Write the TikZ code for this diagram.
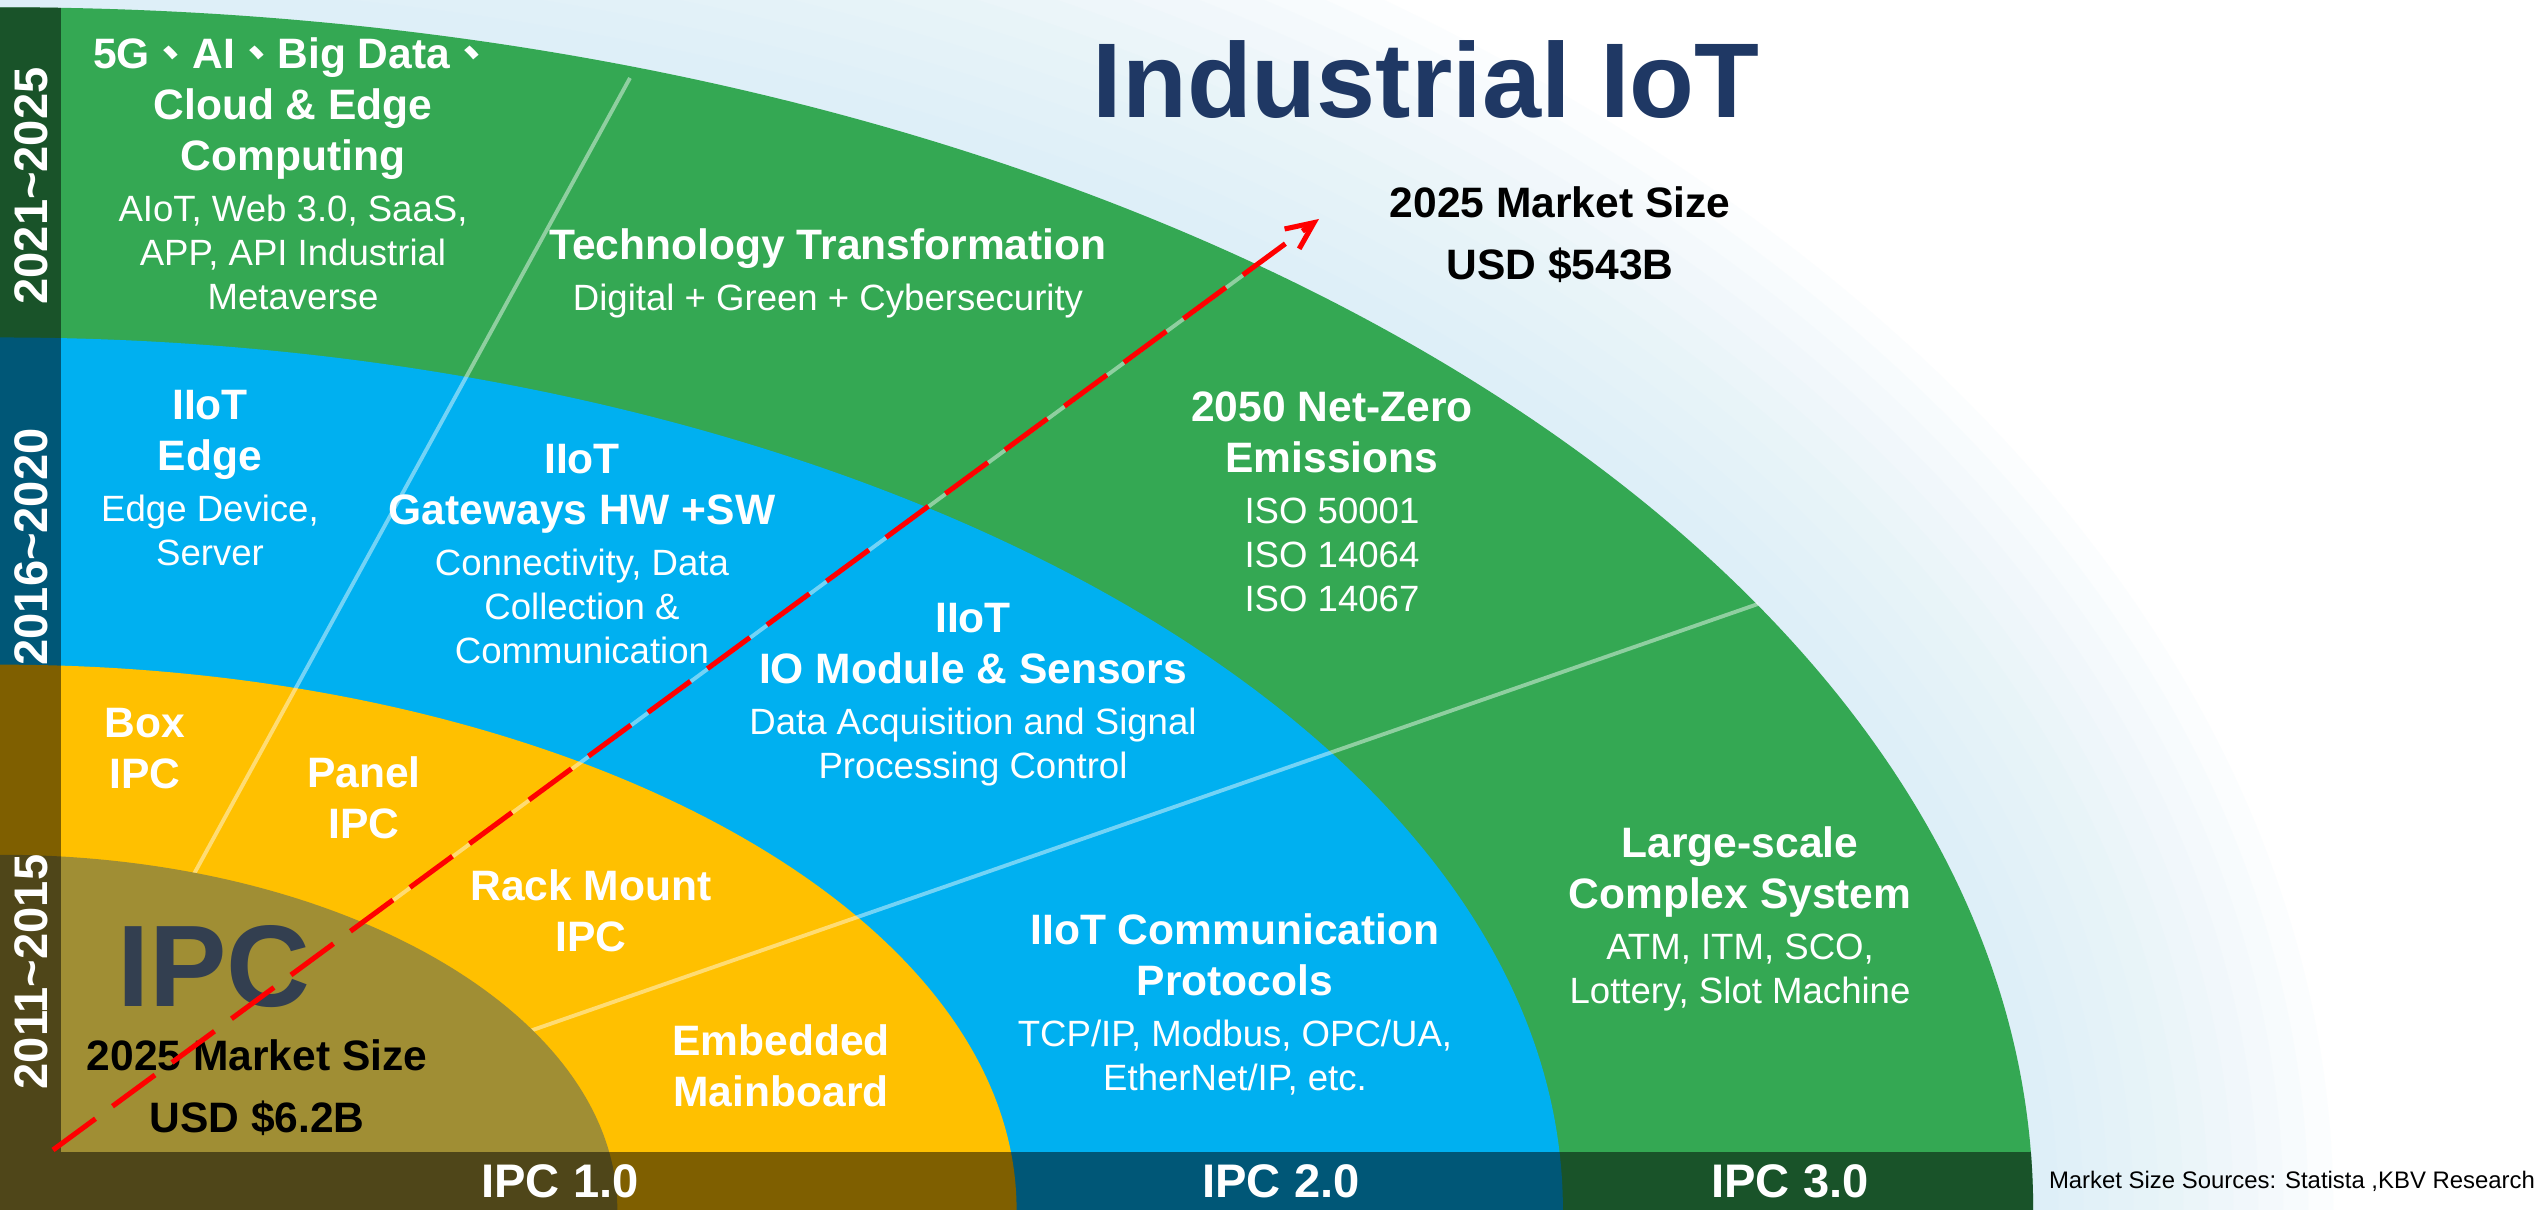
\documentclass[tikz,border=0pt]{standalone}
\usepackage{fontspec}
\setmainfont{Liberation Sans}
\newfontfamily\cjkfont{Noto Sans CJK TC}
\usetikzlibrary{arrows.meta}
\definecolor{ringgreen}{RGB}{52,168,83}
\definecolor{ringblue}{RGB}{0,176,240}
\definecolor{ringyellow}{RGB}{255,192,0}
\definecolor{ringolive}{RGB}{160,142,52}
\definecolor{titlenavy}{RGB}{31,56,100}
\definecolor{ipcslate}{RGB}{51,63,80}
\definecolor{halo}{RGB}{205,234,248}
\newcommand\ringbody{\fontsize{10.4}{12.5}\selectfont}
\newcommand\ringhead{\fontsize{12.1}{14.2}\selectfont\bfseries}
\newcommand\bandfont{\fontsize{13.4}{16}\selectfont\bfseries}
\newcommand\hdline[1]{{\ringhead #1}}
\newcommand\zh{{\cjkfont 、}}

\begin{document}
\begin{tikzpicture}[x=0.01cm, y=0.01cm,
    ring/.style={text=white, align=center, font=\ringbody, inner sep=0pt},
    mkt/.style={text=black, align=center, font=\ringhead, inner sep=0pt},
    band/.style={text=white, font=\bandfont, inner sep=0pt},
    divider/.style={white, opacity=.45, line width=1.1pt},
    growth/.style={red, line width=1.45pt, dash pattern=on 15pt off 6pt,
      -{Straight Barb[length=7.8pt, width=7pt]}}]
  \clip (0,0) rectangle (2547,1210);
  \fill[white] (0,0) rectangle (2547,1210);
  \foreach \k in {12,11,...,1}{
    \fill[halo, opacity=.07] (0,0) ellipse [x radius={20.32cm+\k*0.25cm}, y radius={12.02cm+\k*0.25cm}];
  }
  \fill[ringgreen] (0,0) ellipse [x radius=20.32cm, y radius=12.02cm];
  \fill[ringblue] (0,0) ellipse [x radius=15.62cm, y radius=8.72cm];
  \fill[ringyellow] (0,0) ellipse [x radius=10.16cm, y radius=5.45cm];

  \coordinate (start) at (53,60);
  \coordinate (tip) at (1319,991);
  \coordinate (edgelow) at (194,336);
  \coordinate (edgehigh) at (630,1132);
  \coordinate (commlow) at (527,178);
  \coordinate (commhigh) at (1758,606);
  \coordinate (growlow) at (361,286);
  \coordinate (growhigh) at (1257,945);
  \draw[divider] (edgelow) -- (edgehigh);
  \draw[divider] (commlow) -- (commhigh);
  \draw[divider] (growlow) -- (growhigh);

  \fill[ringolive] (0,0) ellipse [x radius=6.17cm, y radius=3.55cm];
  \begin{scope}
    \clip (0,0) ellipse [x radius=20.32cm, y radius=12.02cm];
    \fill[black, opacity=.5] (0,0) rectangle (61,1210);
    \fill[black, opacity=.5] (61,0) rectangle (2547,58);
  \end{scope}

  \node[font=\fontsize{30.2}{36}\selectfont\bfseries, text=titlenavy, inner sep=0pt] (title) at (1426,1130) {Industrial IoT};
  \node[mkt] (iiotmarket) at (1560,975) {2025 Market Size\\[3.4pt]USD \$543B};

  \node[ring] (cloud) at (293,1036) {\hdline{5G\zh AI\zh Big Data\zh}\\[2pt]\hdline{Cloud \& Edge}\\[2pt]\hdline{Computing}\\[2pt]AIoT, Web 3.0, SaaS,\\APP, API Industrial\\Metaverse};
  \node[ring] (techtrans) at (828,937) {\hdline{Technology Transformation}\\[2pt]Digital + Green + Cybersecurity};
  \node[ring] (netzero) at (1332,708) {\hdline{2050 Net-Zero}\\[2pt]\hdline{Emissions}\\[2pt]ISO 50001\\ISO 14064\\ISO 14067};
  \node[ring] (largescale) at (1740,291) {\hdline{Large-scale}\\[2pt]\hdline{Complex System}\\[2pt]ATM, ITM, SCO,\\Lottery, Slot Machine};

  \node[ring] (edge) at (210,732) {\hdline{IIoT}\\[2pt]\hdline{Edge}\\[2pt]Edge Device,\\Server};
  \node[ring] (gateway) at (582,656) {\hdline{IIoT}\\[2pt]\hdline{Gateways HW +SW}\\[2pt]Connectivity, Data\\Collection \&\\Communication};
  \node[ring] (iomodule) at (973,515) {\hdline{IIoT}\\[2pt]\hdline{IO Module \& Sensors}\\[2pt]Data Acquisition and Signal\\Processing Control};
  \node[ring] (protocols) at (1235,206) {\hdline{IIoT Communication}\\[2pt]\hdline{Protocols}\\[2pt]TCP/IP, Modbus, OPC/UA,\\EtherNet/IP, etc.};

  \node[ring] (boxipc) at (145,461) {\hdline{Box}\\[2pt]\hdline{IPC}};
  \node[ring] (panelipc) at (364,412) {\hdline{Panel}\\[2pt]\hdline{IPC}};
  \node[ring] (rackipc) at (591,299) {\hdline{Rack Mount}\\[2pt]\hdline{IPC}};
  \node[ring] (embedded) at (781,144) {\hdline{Embedded}\\[2pt]\hdline{Mainboard}};

  \node[font=\fontsize{33}{39}\selectfont\bfseries, text=ipcslate, inner sep=0pt] (ipc) at (214,243) {IPC};
  \node[mkt] (ipcmarket) at (257,122) {2025 Market Size\\[3.4pt]USD \$6.2B};

  \node[band, rotate=90] (yearthree) at (31,1024) {2021\textasciitilde 2025};
  \node[band, rotate=90] (yeartwo) at (31,663) {2016\textasciitilde 2020};
  \node[band, rotate=90] (yearone) at (31,238) {2011\textasciitilde 2015};
  \node[band] (ipcone) at (560,29) {IPC 1.0};
  \node[band] (ipctwo) at (1281,29) {IPC 2.0};
  \node[band] (ipcthree) at (1790,29) {IPC 3.0};
  \node[font=\fontsize{6.8}{8}\selectfont, inner sep=0pt] (sources) at (2292,29) {Market Size Sources: Statista ,KBV Research};

  \draw[growth] (start) -- (tip);
\end{tikzpicture}
\end{document}
